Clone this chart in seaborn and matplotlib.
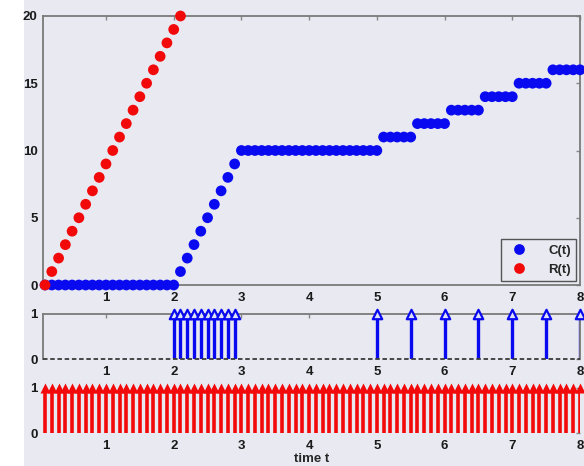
import numpy as np
import pandas as pd
import seaborn as sns
import matplotlib.pyplot as plt
from matplotlib.patches import Rectangle

# sample instants (every 0.1 time units)
t = np.round(np.arange(1, 81) * 0.1, 1)

# cumulative curves
c_vals = ([0] * 20 + [1, 2, 3, 4, 5, 6, 7, 8, 9, 10] + [10] * 20
          + [11] * 5 + [12] * 5 + [13] * 5 + [14] * 5 + [15] * 5 + [16] * 5)
r_vals = [0, 1, 2, 3, 4, 5, 6, 7, 8, 9, 10, 11, 12, 13, 14, 15, 16, 17, 18, 19, 20]

# impulse trains
c_events = [2.0, 2.1, 2.2, 2.3, 2.4, 2.5, 2.6, 2.7, 2.8, 2.9,
            5.0, 5.5, 6.0, 6.5, 7.0, 7.5, 8.0]
r_events = list(t)

xticks = [1, 2, 3, 4, 5, 6, 7, 8]
blue = '#0a0af0'
red = '#f20a0a'
bg = '#e8e9f1'

sns.set_theme(style='white', rc={'axes.facecolor': bg, 'figure.facecolor': bg})
plt.rcParams['font.family'] = ['Liberation Sans', 'DejaVu Sans']
plt.rcParams['font.weight'] = 'bold'

fig = plt.figure(figsize=(5.84, 4.66), dpi=100)
fig.patches.append(Rectangle((0, 0), 24 / 584, 1, transform=fig.transFigure,
                             facecolor='white', edgecolor='none', zorder=-1))

W = 584
H = 466
def box(x0, y0, x1, y1):
    return [x0 / W, 1 - y1 / H, (x1 - x0) / W, (y1 - y0) / H]

ax1 = fig.add_axes(box(43, 16, 580, 285))
ax2 = fig.add_axes(box(43, 314, 580, 359))
ax3 = fig.add_axes(box(43, 388, 580, 433))

df = pd.concat([
    pd.DataFrame({'t': t, 'value': c_vals, 'series': 'C(t)'}),
    pd.DataFrame({'t': t[:len(r_vals)], 'value': r_vals, 'series': 'R(t)'}),
])
sns.scatterplot(data=df, x='t', y='value', hue='series',
                palette={'C(t)': blue, 'R(t)': red}, s=60, linewidth=0,
                clip_on=False, zorder=3, ax=ax1)
ax1.set_ylim(0, 20)
ax1.set_yticks([0, 5, 10, 15, 20])
leg = ax1.legend(loc='lower right', fontsize=9.5, frameon=True, fancybox=False,
                 framealpha=1, facecolor=bg, edgecolor='#555555',
                 handletextpad=1.2, borderaxespad=0.3, markerscale=1.0)
for txt in leg.get_texts():
    txt.set_fontweight('bold')

# departures impulses
ax2.vlines(c_events, 0, 1, color=blue, lw=2.4, zorder=2)
sns.scatterplot(x=c_events, y=[1] * len(c_events), marker='^', s=46,
                color='#dfe2f6', edgecolor=blue, linewidth=1.6,
                clip_on=False, zorder=3, ax=ax2)
ax2.axhline(0, color='#3a3a3a', lw=1.3, ls=(0, (2.5, 1.5)), zorder=4,
            clip_on=False)
ax2.set_ylim(0, 1)
ax2.set_yticks([0, 1])
ax2.spines['bottom'].set_visible(False)

# arrivals impulses
ax3.vlines(r_events, 0, 1, color=red, lw=2.6, zorder=2)
sns.scatterplot(x=r_events, y=[1] * len(r_events), marker='^', s=52,
                color=red, linewidth=0, clip_on=False, zorder=3, ax=ax3)
ax3.set_ylim(0, 1)
ax3.set_yticks([0, 1])
ax3.set_xlabel('time t', fontsize=9.5, fontweight='bold', labelpad=1)
for s in ax3.spines.values():
    s.set_visible(False)

for ax in (ax1, ax2, ax3):
    ax.set_xlim(0.07, 8.0)
    ax.set_xticks(xticks)
    ax.tick_params(direction='in', length=3, width=1, color='#888888',
                   labelsize=9.5, labelcolor='#1a1a1a', top=True, right=True,
                   pad=4)
    ax.tick_params(axis='x', pad=5)
    for lab in ax.get_xticklabels() + ax.get_yticklabels():
        lab.set_fontweight('bold')
    for s in ax.spines.values():
        s.set_color('#7a7a7a')
        s.set_linewidth(1.3)
    if ax is not ax3:
        ax.set_xlabel('')
    ax.set_ylabel('')

plt.savefig('out.png', dpi=100)
